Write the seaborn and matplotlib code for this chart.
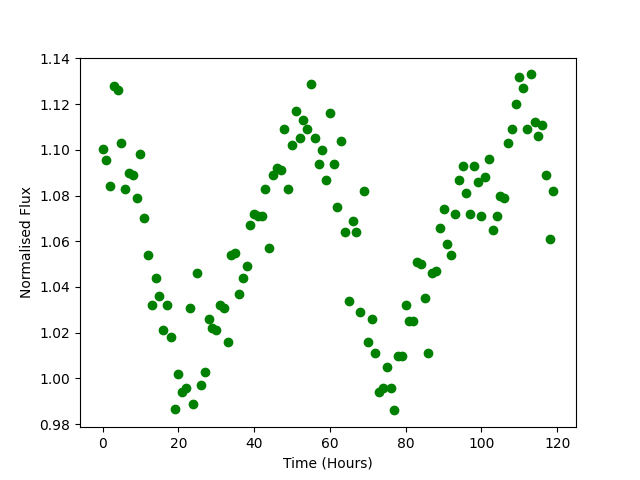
import matplotlib
matplotlib.use("Agg")
import matplotlib.pyplot as plt
import seaborn as sns
import pandas as pd

time_hours = list(range(120))
flux = [
    1.1005, 1.0955, 1.084, 1.128, 1.126, 1.103, 1.083, 1.090, 1.089, 1.079,
    1.098, 1.070, 1.054, 1.032, 1.044, 1.036, 1.021, 1.032, 1.018, 0.9865,
    1.002, 0.994, 0.996, 1.031, 0.989, 1.046, 0.997, 1.003, 1.026, 1.022,
    1.021, 1.032, 1.031, 1.016, 1.054, 1.055, 1.037, 1.044, 1.049, 1.067,
    1.072, 1.071, 1.071, 1.083, 1.057, 1.089, 1.092, 1.091, 1.109, 1.083,
    1.102, 1.117, 1.105, 1.113, 1.109, 1.129, 1.105, 1.094, 1.100, 1.087,
    1.116, 1.094, 1.075, 1.104, 1.064, 1.034, 1.069, 1.064, 1.029, 1.082,
    1.016, 1.026, 1.011, 0.994, 0.996, 1.005, 0.996, 0.986, 1.010, 1.010,
    1.032, 1.025, 1.025, 1.051, 1.050, 1.035, 1.011, 1.046, 1.047, 1.066,
    1.074, 1.059, 1.054, 1.072, 1.087, 1.093, 1.081, 1.072, 1.093, 1.086,
    1.071, 1.088, 1.096, 1.065, 1.071, 1.080, 1.079, 1.103, 1.109, 1.120,
    1.132, 1.127, 1.109, 1.133, 1.112, 1.106, 1.111, 1.089, 1.061, 1.082,
]

df = pd.DataFrame({"Time (Hours)": time_hours, "Normalised Flux": flux})

fig, ax = plt.subplots(figsize=(6.4, 4.8), dpi=100)
sns.scatterplot(data=df, x="Time (Hours)", y="Normalised Flux", ax=ax,
                color="green", edgecolor="green", linewidth=1, s=36)
ax.set_xlabel("Time (Hours)")
ax.set_ylabel("Normalised Flux")
fig.savefig("out.png", dpi=100)
